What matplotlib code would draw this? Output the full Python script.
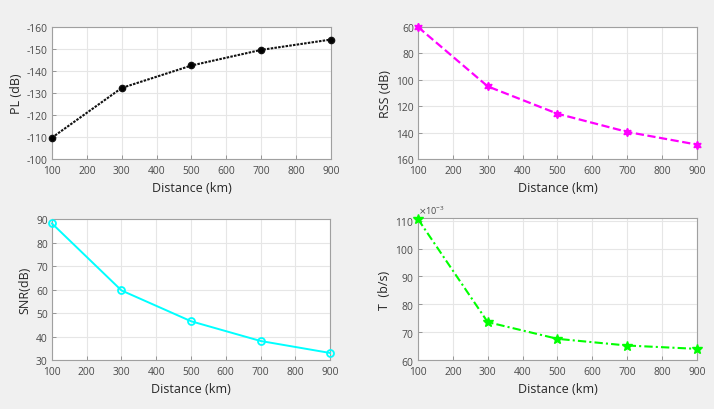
import matplotlib
matplotlib.use("Agg")
import matplotlib.pyplot as plt

plt.rcParams['font.family'] = ['Open Sans', 'DejaVu Sans']
plt.rcParams['axes.unicode_minus'] = False

distance = [100, 300, 500, 700, 900]
pl_db = [-109.7, -132.3, -142.5, -149.6, -154.3]
rss_db = [60, 105, 125.7, 139.5, 149.1]
snr_db = [88.1, 59.6, 46.5, 38.1, 33.0]
t_bps = [0.1106, 0.0736, 0.0676, 0.0652, 0.0640]
xticks = [100, 200, 300, 400, 500, 600, 700, 800, 900]

fig = plt.figure(figsize=(7.14, 4.10), dpi=100, facecolor='#f0f0f0')

pos = {
    'pl': [0.0728, 0.6098, 0.3908, 0.3219],
    'rss': [0.5854, 0.6098, 0.3908, 0.3219],
    'snr': [0.0728, 0.1195, 0.3894, 0.3439],
    't': [0.5854, 0.1195, 0.3908, 0.3464],
}

tick_color = '#4a4a4a'
label_color = '#262626'


def style(ax, ylabel, yticks, ylim):
    ax.set_facecolor('white')
    ax.set_xlim(100, 900)
    ax.set_xticks(xticks)
    ax.set_yticks(yticks)
    ax.set_ylim(*ylim)
    ax.grid(True, color='#e6e6e6', linewidth=0.8)
    ax.set_axisbelow(True)
    ax.tick_params(direction='in', length=3, width=0.6, colors='#888888',
                   labelcolor=tick_color, labelsize=7.4)
    ax.tick_params(axis='x', pad=4)
    ax.tick_params(axis='y', pad=3)
    for s in ax.spines.values():
        s.set_color('#a0a0a0')
        s.set_linewidth(0.8)
    ax.set_xlabel('Distance (km)', fontsize=9, color=label_color, labelpad=4)
    ax.set_ylabel(ylabel, fontsize=9, color=label_color, labelpad=3)


ax1 = fig.add_axes(pos['pl'])
ax1.plot(distance, pl_db, color='#111111', linestyle=(0, (1.2, 0.6)),
         linewidth=1.5, marker='o', markersize=4.5, markerfacecolor='black',
         clip_on=False, zorder=3)
style(ax1, 'PL (dB)', [-100, -110, -120, -130, -140, -150, -160], (-100, -160))

ax2 = fig.add_axes(pos['rss'])
ax2.plot(distance, rss_db, '--', color='#ff00ff', linewidth=1.6,
         marker=(6, 1, 0), markersize=6, clip_on=False, zorder=3)
style(ax2, 'RSS (dB)', [60, 80, 100, 120, 140, 160], (160, 60))

ax3 = fig.add_axes(pos['snr'])
ax3.plot(distance, snr_db, '-', color='#00ffff', linewidth=1.4, marker='o',
         markersize=5, markerfacecolor='none', markeredgewidth=1.3,
         clip_on=False, zorder=3)
style(ax3, 'SNR(dB)', [30, 40, 50, 60, 70, 80, 90], (30, 90))

ax4 = fig.add_axes(pos['t'])
ax4.plot(distance, t_bps, color='#00ff00', linestyle=(0, (4, 1.5, 1, 1.5)),
         linewidth=1.5, marker='*', markersize=7, clip_on=False, zorder=3)
style(ax4, 'T  (b/s)', [0.060, 0.070, 0.080, 0.090, 0.100, 0.110], (0.060, 0.111))
ax4.ticklabel_format(axis='y', style='sci', scilimits=(-3, -3), useMathText=True)
ax4.yaxis.get_offset_text().set_fontsize(6.5)
ax4.yaxis.get_offset_text().set_color(tick_color)

fig.savefig('out.png', dpi=100, facecolor=fig.get_facecolor())
